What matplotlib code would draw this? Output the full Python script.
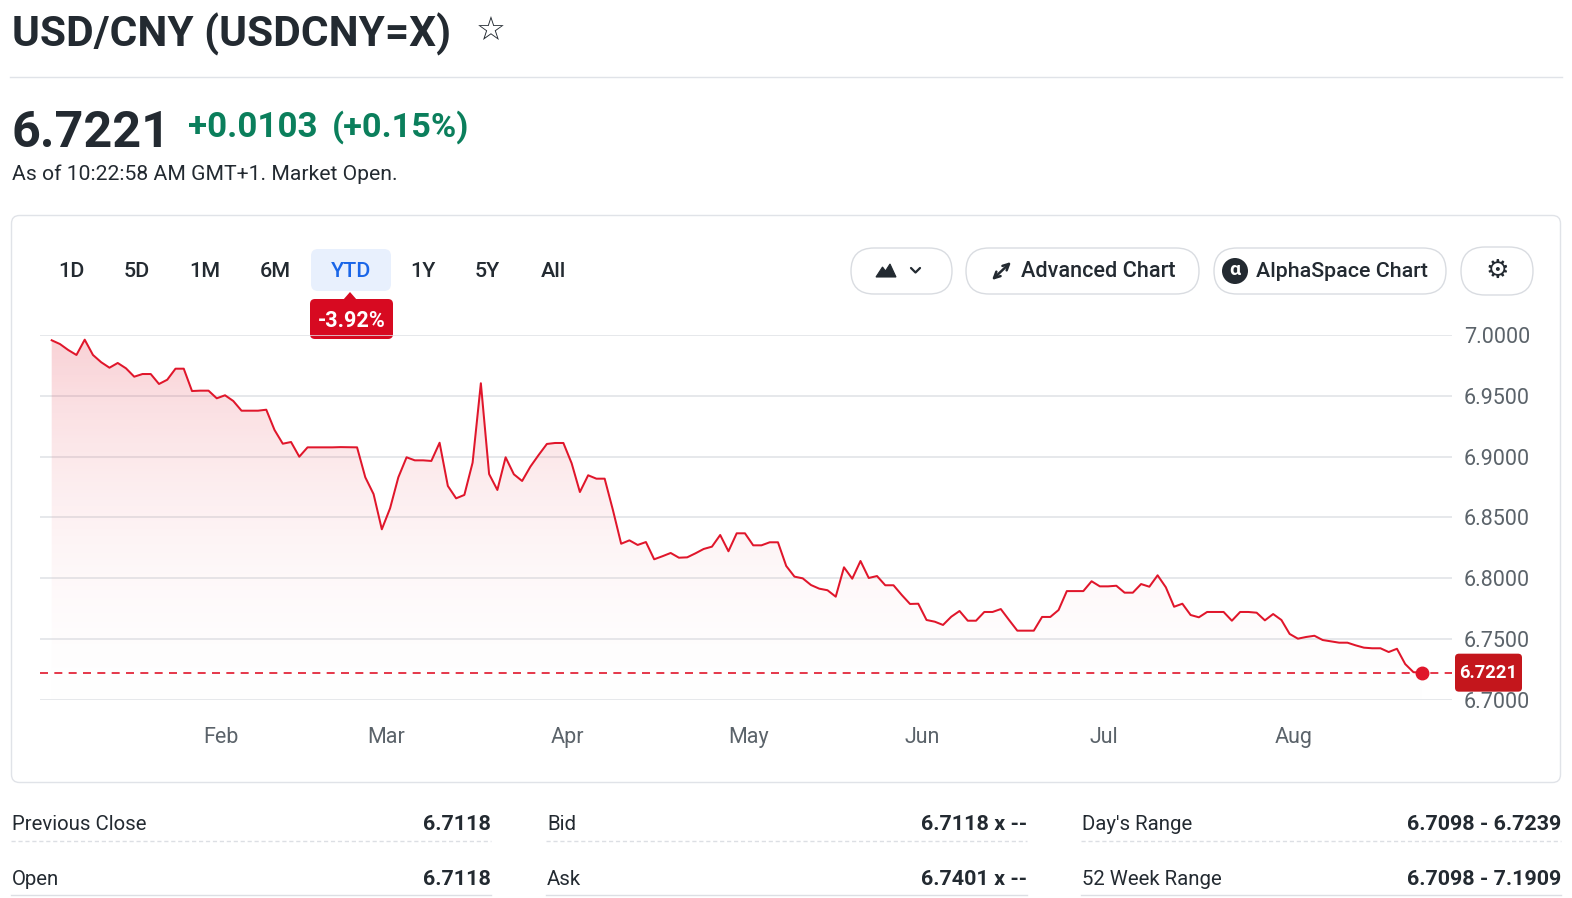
import numpy as np
import pandas as pd
import matplotlib
matplotlib.use('Agg')
from matplotlib import pyplot as plt
from matplotlib.patches import FancyBboxPatch, Polygon, Circle
from matplotlib.colors import LinearSegmentedColormap
import matplotlib.transforms as mtransforms

# USD/CNY daily close, YTD (one value per weekday)
rate = [6.9959, 6.9928, 6.9879, 6.9838, 6.9964, 6.9838, 6.9778, 6.9733, 6.9772, 6.9728,
        6.9659, 6.9681, 6.9681, 6.9599, 6.9634, 6.9725, 6.9725, 6.9541, 6.9544, 6.9544,
        6.9481, 6.9506, 6.9459, 6.9379, 6.9379, 6.9379, 6.9387, 6.9220, 6.9107, 6.9121,
        6.9000, 6.9077, 6.9077, 6.9077, 6.9077, 6.9079, 6.9078, 6.9077, 6.8830, 6.8692,
        6.8402, 6.8575, 6.8830, 6.8995, 6.8970, 6.8970, 6.8965, 6.9115, 6.8759, 6.8657,
        6.8685, 6.8951, 6.9605, 6.8857, 6.8726, 6.8995, 6.8855, 6.8800, 6.8918, 6.9014,
        6.9105, 6.9113, 6.9113, 6.8946, 6.8709, 6.8847, 6.8819, 6.8819, 6.8561, 6.8283,
        6.8311, 6.8273, 6.8297, 6.8155, 6.8180, 6.8207, 6.8168, 6.8171, 6.8204, 6.8240,
        6.8259, 6.8355, 6.8221, 6.8369, 6.8369, 6.8270, 6.8270, 6.8295, 6.8295, 6.8100,
        6.8012, 6.7998, 6.7943, 6.7913, 6.7900, 6.7847, 6.8089, 6.7995, 6.8141, 6.8001,
        6.8017, 6.7941, 6.7941, 6.7861, 6.7787, 6.7789, 6.7655, 6.7641, 6.7614, 6.7682,
        6.7729, 6.7649, 6.7649, 6.7721, 6.7721, 6.7745, 6.7655, 6.7567, 6.7567, 6.7567,
        6.7680, 6.7680, 6.7737, 6.7893, 6.7893, 6.7893, 6.7974, 6.7932, 6.7932, 6.7937,
        6.7880, 6.7880, 6.7951, 6.7929, 6.8023, 6.7924, 6.7764, 6.7789, 6.7696, 6.7677,
        6.7721, 6.7721, 6.7721, 6.7649, 6.7721, 6.7721, 6.7715, 6.7652, 6.7704, 6.7655,
        6.7540, 6.7501, 6.7515, 6.7525, 6.7490, 6.7479, 6.7468, 6.7468, 6.7446, 6.7427,
        6.7422, 6.7422, 6.7391, 6.7418, 6.7292, 6.7225, 6.7221]
first_day = '2026-01-05'
y_ticks = [6.70, 6.75, 6.80, 6.85, 6.90, 6.95, 7.00]

ranges = ['1D', '5D', '1M', '6M', 'YTD', '1Y', '5Y', 'All']
active_range = 'YTD'
ytd_change = '-3.92%'

title = 'USD/CNY (USDCNY=X)'
price = '6.7221'
change = '+0.0103'
change_pct = '(+0.15%)'
as_of = 'As of 10:22:58 AM GMT+1. Market Open.'

stats_labels = [['Previous Close', 'Bid', "Day's Range"],
                ['Open', 'Ask', '52 Week Range']]
stats_values = [['6.7118', '6.7118 x --', '6.7098 - 6.7239'],
                ['6.7118', '6.7401 x --', '6.7098 - 7.1909']]

plt.rcParams['font.family'] = ['Roboto', 'DejaVu Sans']
DARK = '#232a31'
GREY = '#5b636a'
RED = '#e0162b'
GREEN = '#0b7f5c'
LINE = '#e0e3e8'

W, H = 1572, 898
fig = plt.figure(figsize=(W / 100, H / 100), dpi=100)
renderer = fig.canvas.get_renderer()

#   Overlay in pixel coordinates for the page decorations
bg = fig.add_axes([0, 0, 1, 1], zorder=0)
bg.set_xlim(0, W)
bg.set_ylim(H, 0)
bg.axis('off')


def put(x, y, s, width=None, size=14, ha='left', va='baseline', **kw):
    t = bg.text(x, y, s, fontsize=size, ha=ha, va=va, **kw)
    if width:
        w = t.get_window_extent(renderer).width
        t.set_fontsize(size * width / w)
    return t


def pill(x, y, w, h, r, **kw):
    p = FancyBboxPatch((x, y), w, h, boxstyle='round,pad=0,rounding_size=%f' % r, **kw)
    bg.add_patch(p)
    return p


# Header
put(12, 47, title, width=438, size=30, weight='bold', color=DARK)
put(491, 31, '\u2606', size=24, ha='center', va='center', color=DARK, family='DejaVu Sans')
bg.plot([10, 1562], [77, 77], color=LINE, lw=1)
put(11, 147, price, width=159, size=40, weight='bold', color=DARK)
put(188, 137, change, width=130, size=26, weight='bold', color=GREEN)
put(332, 137, change_pct, width=137, size=26, weight='bold', color=GREEN)
put(12, 180, as_of, width=387, size=14, color=DARK)

# Chart card
pill(11.5, 215.5, 1549, 567, 8, fc='white', ec=LINE, lw=1)

# Range selector
pill(311, 249, 80, 42, 7, fc='#e8f0fd', ec='none')
rx = [71, 137, 205, 275, 351, 423, 487, 553]
t = put(0, 0, active_range, width=40, size=14, weight='medium')
fs = t.get_fontsize()
t.remove()
for lab, xx in zip(ranges, rx):
    put(xx, 277, lab, size=fs, ha='center', weight='medium',
        color='#1a66e8' if lab == active_range else DARK)
pill(310, 299, 83, 40, 5, fc='#d70a21', ec='none')
bg.add_patch(Polygon([(343, 300), (357, 300), (350, 292)], closed=True, fc='#d70a21', ec='none'))
put(351.5, 327, ytd_change, width=68, size=14, ha='center', weight='bold', color='white')

# Buttons on the right
pill(851, 248, 101, 46, 23, fc='white', ec='#d9dce1', lw=1)
pill(966, 248, 233, 46, 23, fc='white', ec='#d9dce1', lw=1)
pill(1214, 248, 232, 46, 23, fc='white', ec='#d9dce1', lw=1)
pill(1461, 247, 72, 48, 24, fc='white', ec='#d9dce1', lw=1)
bg.add_patch(Polygon([(876, 277), (882.5, 267), (885.5, 271), (890, 264), (896, 277)],
                     closed=True, fc=DARK, ec=DARK, lw=0.8))
bg.plot([911, 915.5, 920], [268, 272.5, 268], color=DARK, lw=1.6, solid_capstyle='round')
bg.annotate('', xy=(1011, 262), xytext=(992, 280),
            arrowprops=dict(arrowstyle='<->', lw=1.8, color=DARK, mutation_scale=11,
                            shrinkA=0, shrinkB=0))
put(1021, 277, 'Advanced Chart', width=154, size=14, weight='medium', color=DARK)
bg.add_patch(Circle((1235, 271), 13, fc=DARK, ec='none'))
put(1235, 270, '\u03b1', size=14, ha='center', va='center', weight='bold', color='white')
put(1256, 277, 'AlphaSpace Chart', width=172, size=14, weight='medium', color=DARK)
put(1497, 271, '\u2699', size=19, ha='center', va='center', color=DARK, family='DejaVu Sans')

# Price chart
n = len(rate)
x = np.arange(n)
dates = pd.bdate_range(first_day, periods=n)
month_idx = [i for i in range(1, n) if dates[i].month != dates[i - 1].month]
month_lab = [dates[i].strftime('%b') for i in month_idx]

step = 8.253
ax = fig.add_axes([40 / W, 1 - 699.5 / H, 1412 / W, 364.2 / H], zorder=2)
ax.set_facecolor('none')
xlim = (-(51.7 - 40) / step, n - 1 + (1452 - 1421.7) / step)
ylim = (y_ticks[0], y_ticks[-1])

#   Gradient fill under the line
cmap = LinearSegmentedColormap.from_list('fade', [(1, 1, 1, 0), (0.878, 0.086, 0.169, 0.2)])
grad = np.linspace(1, 0.08, 256).reshape(-1, 1)
im = ax.imshow(grad, extent=[xlim[0], xlim[1], ylim[0], ylim[1]], aspect='auto',
               cmap=cmap, vmin=0, vmax=1, origin='upper', zorder=1)
poly = ax.fill_between(x, rate, ylim[0], color='none', lw=0)
im.set_clip_path(poly.get_paths()[0], transform=ax.transData)

ax.plot(x, rate, color=RED, lw=1.45, zorder=3)
ax.axhline(rate[-1], color=RED, lw=1.2, ls=(0, (4.8, 3.8)), zorder=3)
ax.plot(x[-1], rate[-1], 'o', ms=9, color=RED, clip_on=False, zorder=5)

ax.set_xlim(xlim)
ax.set_ylim(ylim)
ax.set_yticks(y_ticks)
ax.set_yticklabels(['%.4f' % v for v in y_ticks])
ax.yaxis.tick_right()
ax.set_xticks(month_idx)
ax.set_xticklabels(month_lab)
ax.tick_params(axis='y', length=0, pad=8.5, labelsize=15.5, labelcolor=GREY)
ax.tick_params(axis='x', length=0, pad=20, labelsize=15.5, labelcolor=GREY)
shift = mtransforms.ScaledTranslation(4 / 100, 0, fig.dpi_scale_trans)
for lab in ax.get_xticklabels():
    lab.set_transform(lab.get_transform() + shift)
ax.grid(axis='y', color='#dfe1e6', lw=1.1, zorder=0)
ax.set_axisbelow(True)
for s in ax.spines.values():
    s.set_visible(False)

#   Last price badge, placed on the pixel overlay at the height of the last value
last_py = H - ax.transData.transform((0, rate[-1]))[1]
badge = FancyBboxPatch((1455, last_py - 19), 67, 38, boxstyle='round,pad=0,rounding_size=4',
                       fc='#c4161c', ec='none', transform=bg.transData, clip_on=False, zorder=6)
ax.add_patch(badge)
ax.text(1488.5, last_py, '%.4f' % rate[-1], transform=bg.transData, ha='center',
        va='center', fontsize=13.2, weight='bold', color='white', zorder=7, clip_on=False)

# Stats table
col_l = [12, 547, 1082]
col_r = [491, 1027, 1561]
row_y = [830, 885]
t = put(0, 0, stats_labels[0][0], width=136, size=14)
fs_l = t.get_fontsize()
t.remove()
t = put(0, 0, stats_values[0][2], width=155, size=14, weight='bold')
fs_v = t.get_fontsize()
t.remove()
for r in range(2):
    for c in range(3):
        put(col_l[c], row_y[r], stats_labels[r][c], size=fs_l, color=DARK)
        put(col_r[c], row_y[r], stats_values[r][c], size=fs_v, ha='right', weight='bold', color=DARK)
for c in range(3):
    bg.plot([col_l[c] - 1, col_r[c]], [841, 841], color='#dcdfe4', lw=1, ls=(0, (3, 2)))
    bg.plot([col_l[c] - 1, col_r[c]], [895, 895], color='#dcdfe4', lw=1)

fig.savefig('out.png', dpi=100, facecolor='white')
